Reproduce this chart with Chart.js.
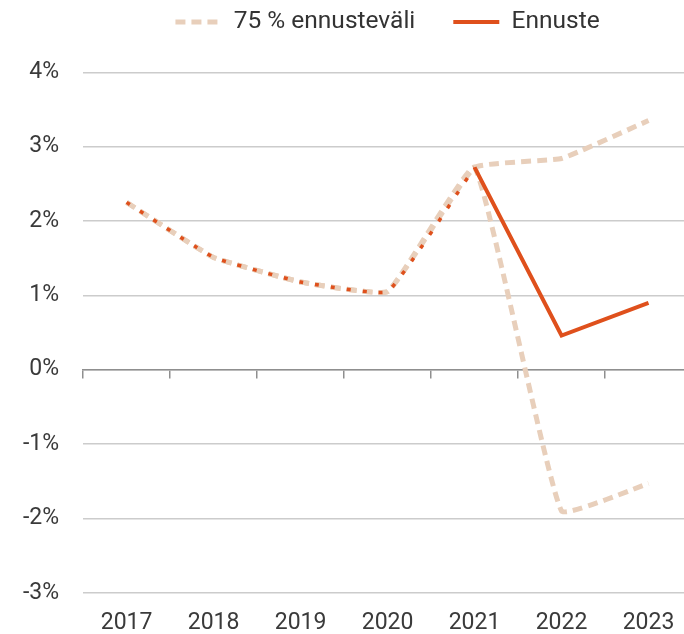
<!DOCTYPE html>
<html>
<head>
<meta charset="utf-8">
<script src="https://cdn.jsdelivr.net/npm/chart.js@4/dist/chart.umd.min.js"></script>
<style>
  html, body { margin: 0; padding: 0; background: #fff; overflow: hidden; }
  #wrap { position: relative; width: 692px; height: 634px; }
</style>
</head>
<body>
<div id="wrap"><canvas id="c"></canvas></div>
<script>
// ---- data ----
const years = ['2017', '2018', '2019', '2020', '2021', '2022', '2023'];
const upperBand = [2.25, 1.51, 1.18, 1.05, 2.72, 2.84, 3.35];
const lowerBand = [2.25, 1.51, 1.18, 1.05, 2.72, -1.90, -1.53];
const forecast  = [null, null, null, null, 2.72, 0.46, 0.90];
const history   = [2.25, 1.51, 1.18, 1.05, 2.72, null, null];
const yTicks = [-3, -2, -1, 0, 1, 2, 3, 4];

const ORANGE = '#df501c';
const BEIGE = '#e8cfbb';
const FONT = 'Roboto';

const legendSpace = {
  id: 'legendSpace',
  beforeInit(chart) {
    const origFit = chart.legend.fit;
    chart.legend.fit = function () {
      origFit.call(this);
      this.height += 28;
    };
  }
};

new Chart(document.getElementById('c'), {
  type: 'line',
  data: {
    labels: years,
    datasets: [
      { label: '75 % ennusteväli', data: upperBand, borderColor: BEIGE, backgroundColor: BEIGE,
        borderWidth: 5, borderDash: [10, 6], pointRadius: 0, tension: 0.1, order: 2 },
      { label: '75 % ennusteväli (ala)', data: lowerBand, borderColor: BEIGE, backgroundColor: BEIGE,
        borderWidth: 5, borderDash: [10, 6], pointRadius: 0, tension: 0.1, order: 2 },
      { label: 'Ennuste', data: forecast, borderColor: ORANGE, backgroundColor: ORANGE,
        borderWidth: 4, pointRadius: 0, tension: 0, order: 1 },
      { label: 'Toteutunut', data: history, borderColor: ORANGE, backgroundColor: ORANGE,
        borderWidth: 3.5, borderDash: [4, 12], pointRadius: 0, tension: 0.1, order: 0 }
    ]
  },
  options: {
    responsive: true,
    maintainAspectRatio: false,
    animation: false,
    layout: { padding: { left: 23, right: 0, top: -28.25, bottom: 0 } },
    plugins: {
      tooltip: { enabled: false },
      legend: {
        position: 'top',
        fullSize: false,
        labels: {
          usePointStyle: true,
          pointStyle: 'line',
          pointStyleWidth: 46,
          padding: 38,
          color: '#333',
          font: { family: FONT, size: 24.5 },
          generateLabels: (ch) => {
            const items = Chart.defaults.plugins.legend.labels.generateLabels(ch);
            return items
              .filter(it => it.datasetIndex === 0 || it.datasetIndex === 2)
              .sort((a, b) => a.datasetIndex - b.datasetIndex)
              .map(it => {
                const ds = ch.data.datasets[it.datasetIndex];
                it.lineDash = ds.borderDash || [];
                it.lineWidth = ds.borderWidth;
                it.strokeStyle = ds.borderColor;
                it.fillStyle = ds.borderColor;
                return it;
              });
          }
        }
      }
    },
    scales: {
      x: {
        type: 'category',
        position: 'bottom',
        offset: true,
        grid: { display: true, drawOnChartArea: false, drawTicks: true, tickLength: 20.5, tickColor: 'transparent' },
        border: { display: false },
        ticks: { color: '#3a3a3a', padding: 0, font: { family: FONT, size: 23, lineHeight: 0.9 } }
      },
      x0: {
        type: 'category',
        position: { y: 0 },
        offset: true,
        grid: { offset: true, drawOnChartArea: false, drawTicks: true, tickLength: 8, color: '#8f8f8f', lineWidth: 1.5 },
        border: { display: true, color: '#8f8f8f', width: 1.5 },
        ticks: { display: false, padding: 0 }
      },
      y: {
        min: -3,
        max: 4,
        afterBuildTicks: (axis) => { axis.ticks = yTicks.map(v => ({ value: v })); },
        grid: { color: '#cccccc', lineWidth: 1.5, drawTicks: true, tickLength: 24, tickColor: 'transparent' },
        border: { display: false },
        ticks: {
          color: '#3a3a3a', padding: 0,
          font: { family: FONT, size: 23 },
          callback: (v) => v + '%'
        }
      }
    }
  },
  plugins: [legendSpace]
});
</script>
</body>
</html>
